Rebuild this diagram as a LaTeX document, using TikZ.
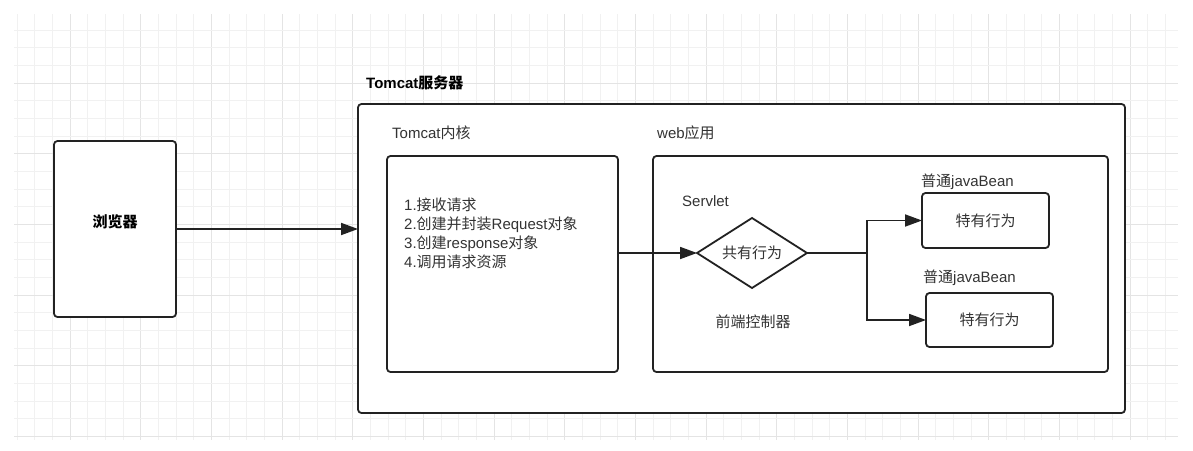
\documentclass[tikz,border=0pt]{standalone}
\usepackage{fontspec}
\setmainfont{Liberation Sans}
\newfontfamily\cjkfont{Noto Sans CJK SC}
\newcommand\zh[1]{{\cjkfont #1}}
\usetikzlibrary{arrows.meta,shapes.geometric}
\definecolor{ink}{HTML}{222222}
\definecolor{txt}{HTML}{333333}
\definecolor{gridminor}{HTML}{F1F1F1}
\definecolor{gridmajor}{HTML}{E4E4E4}
\tikzset{
  box/.style={draw=ink, line width=1.8pt, rounded corners=3.5pt, fill=white, inner sep=0pt, outer sep=0pt},
  lbl/.style={text=txt, inner sep=0pt, font=\fontsize{15}{19}\selectfont},
  blbl/.style={text=black, inner sep=0pt, font=\fontsize{15}{19}\selectfont\bfseries},
  conn/.style={draw=ink, line width=1.8pt, -{Triangle[length=17pt,width=12pt]}},
  plain/.style={draw=ink, line width=1.8pt}
}
\begin{document}
\begin{tikzpicture}[x=1pt,y=-1pt]
\useasboundingbox (0,0) rectangle (1193,450);
\fill[white] (0,0) rectangle (1193,450);
% grid
\foreach \k in {0,...,65} {
  \pgfmathsetmacro{\gx}{17+17.67*\k}
  \pgfmathtruncatemacro{\m}{mod(\k+1,4)}
  \ifnum\m=0
    \draw[gridmajor, line width=1pt] (\gx,14) -- (\gx,440);
  \else
    \draw[gridminor, line width=1pt] (\gx,14) -- (\gx,440);
  \fi
}
\foreach \k in {0,...,23} {
  \pgfmathsetmacro{\gy}{30+17.67*\k}
  \pgfmathtruncatemacro{\m}{mod(\k+1,4)}
  \ifnum\m=0
    \draw[gridmajor, line width=1pt] (14,\gy) -- (1178,\gy);
  \else
    \draw[gridminor, line width=1pt] (14,\gy) -- (1178,\gy);
  \fi
}
% browser
\node[box, minimum width=122pt, minimum height=176pt] (browser) at (115,229) {};
\node[blbl] (browserlbl) at (115,222) {\zh{浏览器}};
% outer server box
\node[box, minimum width=767pt, minimum height=309pt] (outer) at (741.5,258.5) {};
\node[blbl, anchor=west] (outerlbl) at (366,83) {Tomcat\zh{服务器}};
% Tomcat kernel
\node[lbl, anchor=west] (kernlbl) at (392,133) {Tomcat\zh{内核}};
\node[box, minimum width=231pt, minimum height=216pt] (kernel) at (502.5,264) {};
\node[lbl, anchor=west, align=left] (kerntext) at (404,233.5) {1.\zh{接收请求}\\2.\zh{创建并封装}Request\zh{对象}\\3.\zh{创建}response\zh{对象}\\4.\zh{调用请求资源}};
% web application
\node[lbl, anchor=west] (weblbl) at (657,133) {web\zh{应用}};
\node[box, minimum width=455pt, minimum height=216pt] (web) at (880.5,264) {};
\node[lbl, anchor=west] (servletlbl) at (682,201) {Servlet};
\node[draw=ink, line width=1.8pt, diamond, aspect=1.57, minimum width=110pt, minimum height=70pt, inner sep=0pt, outer sep=0pt, fill=white, text=txt, font=\fontsize{15}{19}\selectfont] (dia) at (752,253) {\zh{共有行为}};
\node[lbl] (frontlbl) at (753,322) {\zh{前端控制器}};
% beans
\node[lbl, anchor=west] (bean1lbl) at (921,182) {\zh{普通}javaBean};
\node[box, minimum width=127pt, minimum height=55pt, text=txt, font=\fontsize{15}{19}\selectfont] (bean1) at (985.5,220.5) {\zh{特有行为}};
\node[lbl, anchor=west] (bean2lbl) at (923,278) {\zh{普通}javaBean};
\node[box, minimum width=127pt, minimum height=54pt, text=txt, font=\fontsize{15}{19}\selectfont] (bean2) at (989.5,320) {\zh{特有行为}};
% connectors
\draw[conn] (browser.east) -- (browser.east -| outer.west);
\draw[conn] (dia.west -| kernel.east) -- (dia.west);
\coordinate (j) at (867,253);
\draw[plain] (dia.east) -- (j);
\draw[conn] (j) |- (bean1.west);
\draw[conn] (j) |- (bean2.west);
\end{tikzpicture}
\end{document}
